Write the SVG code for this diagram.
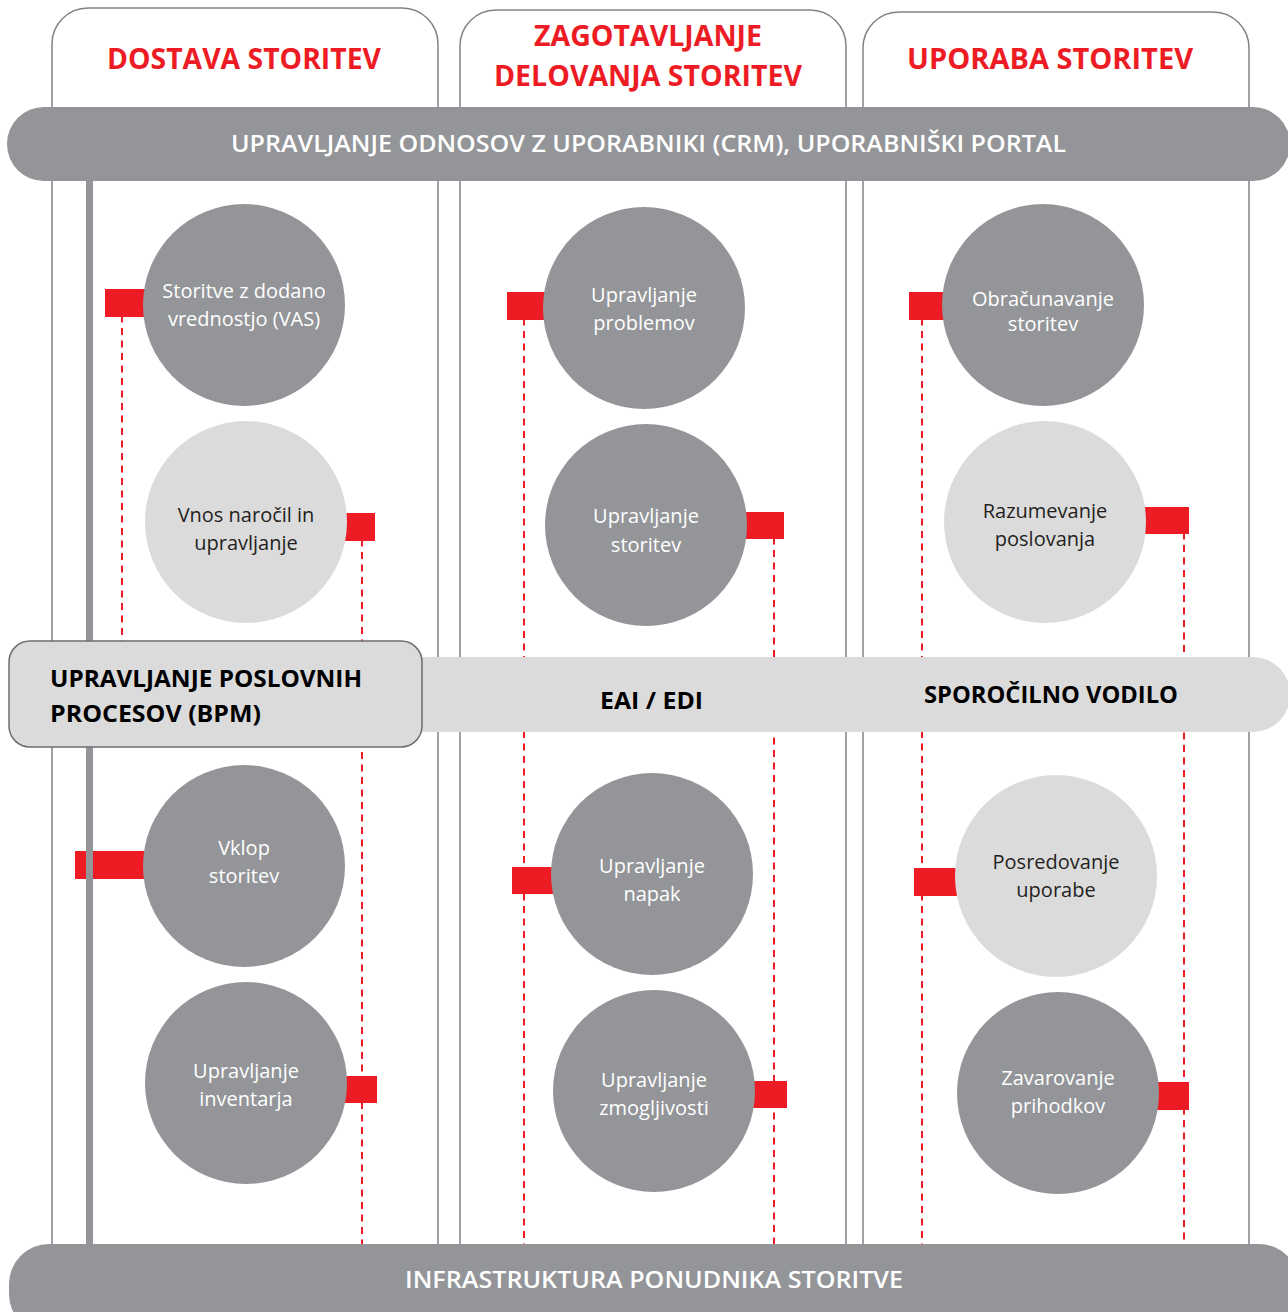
<svg xmlns="http://www.w3.org/2000/svg" width="1288" height="1312" viewBox="0 0 1288 1312">
<defs>
<style>
.col{fill:#ffffff;stroke:#808285;stroke-width:1.5}
.dark{fill:#939598}
.light{fill:#dcdbdc}
.port{fill:#ed1c24}
.dash{stroke:#ed1c24;stroke-width:2;stroke-dasharray:7 5.5;fill:none}
.spine{stroke:#939598;stroke-width:7;fill:none}
.hdr{font-family:"Open Sans","Noto Sans",sans-serif;font-weight:700;font-size:28px;fill:#ed1c24;text-anchor:middle}
.bar{font-family:"Open Sans","Noto Sans",sans-serif;font-weight:600;font-size:24px;fill:#ffffff;text-anchor:middle}
.lbl{font-family:"Open Sans","Noto Sans",sans-serif;font-weight:700;font-size:24px;fill:#000000}
.tw{font-family:"Open Sans","Noto Sans",sans-serif;font-size:20px;fill:#ffffff;text-anchor:middle}
.tb{font-family:"Open Sans","Noto Sans",sans-serif;font-size:20px;fill:#231f20;text-anchor:middle}
</style>
</defs>

<g id="columns">
<g id="col-dostava">
<path class="col" d="M52,1250 V44 A36,36 0 0 1 88,8 H402 A36,36 0 0 1 438,44 V1250"/>
<text class="hdr" x="244" y="69" textLength="274" lengthAdjust="spacingAndGlyphs">DOSTAVA STORITEV</text>
</g>
<g id="col-zagotavljanje">
<path class="col" d="M460,1250 V46 A36,36 0 0 1 496,10 H810 A36,36 0 0 1 846,46 V1250"/>
<text class="hdr" x="648" y="46" textLength="228" lengthAdjust="spacingAndGlyphs">ZAGOTAVLJANJE</text>
<text class="hdr" x="648" y="86" textLength="308" lengthAdjust="spacingAndGlyphs">DELOVANJA STORITEV</text>
</g>
<g id="col-uporaba">
<path class="col" d="M863,1250 V48 A36,36 0 0 1 899,12 H1213 A36,36 0 0 1 1249,48 V1250"/>
<text class="hdr" x="1050" y="69" textLength="286" lengthAdjust="spacingAndGlyphs">UPORABA STORITEV</text>
</g>
</g>

<g id="nodes">
<g id="n-vas">
<rect class="port" x="105" y="289" width="44" height="28"/>
<circle class="dark" cx="244" cy="305" r="101"/>
<text class="tw" x="244" y="298">Storitve z dodano</text>
<text class="tw" x="244" y="326">vrednostjo (VAS)</text>
</g>
<g id="n-vnos">
<rect class="port" x="341" y="513" width="34" height="28"/>
<circle class="light" cx="246" cy="522" r="101"/>
<text class="tb" x="246" y="522">Vnos naročil in</text>
<text class="tb" x="246" y="550">upravljanje</text>
</g>
<g id="n-vklop">
<rect class="port" x="75" y="851" width="74" height="28"/>
<circle class="dark" cx="244" cy="866" r="101"/>
<text class="tw" x="244" y="855">Vklop</text>
<text class="tw" x="244" y="883">storitev</text>
</g>
<g id="n-inventar">
<rect class="port" x="341" y="1076" width="36" height="27"/>
<circle class="dark" cx="246" cy="1083" r="101"/>
<text class="tw" x="246" y="1078">Upravljanje</text>
<text class="tw" x="246" y="1106">inventarja</text>
</g>

<g id="n-problemi">
<rect class="port" x="507" y="292" width="42" height="28"/>
<circle class="dark" cx="644" cy="308" r="101"/>
<text class="tw" x="644" y="302">Upravljanje</text>
<text class="tw" x="644" y="330">problemov</text>
</g>
<g id="n-storitve">
<rect class="port" x="741" y="512" width="43" height="27"/>
<circle class="dark" cx="646" cy="525" r="101"/>
<text class="tw" x="646" y="523">Upravljanje</text>
<text class="tw" x="646" y="552">storitev</text>
</g>
<g id="n-napake">
<rect class="port" x="512" y="867" width="45" height="27"/>
<circle class="dark" cx="652" cy="874" r="101"/>
<text class="tw" x="652" y="873">Upravljanje</text>
<text class="tw" x="652" y="901">napak</text>
</g>
<g id="n-zmogljivost">
<rect class="port" x="749" y="1081" width="38" height="27"/>
<circle class="dark" cx="654" cy="1091" r="101"/>
<text class="tw" x="654" y="1087">Upravljanje</text>
<text class="tw" x="654" y="1115">zmogljivosti</text>
</g>

<g id="n-obracun">
<rect class="port" x="909" y="292" width="39" height="28"/>
<circle class="dark" cx="1043" cy="305" r="101"/>
<text class="tw" x="1043" y="306">Obračunavanje</text>
<text class="tw" x="1043" y="331">storitev</text>
</g>
<g id="n-razumevanje">
<rect class="port" x="1140" y="507" width="49" height="27"/>
<circle class="light" cx="1045" cy="522" r="101"/>
<text class="tb" x="1045" y="518">Razumevanje</text>
<text class="tb" x="1045" y="546">poslovanja</text>
</g>
<g id="n-posredovanje">
<rect class="port" x="914" y="868" width="47" height="28"/>
<circle class="light" cx="1056" cy="876" r="101"/>
<text class="tb" x="1056" y="869">Posredovanje</text>
<text class="tb" x="1056" y="897">uporabe</text>
</g>
<g id="n-zavarovanje">
<rect class="port" x="1153" y="1082" width="36" height="28"/>
<circle class="dark" cx="1058" cy="1093" r="101"/>
<text class="tw" x="1058" y="1085">Zavarovanje</text>
<text class="tw" x="1058" y="1113">prihodkov</text>
</g>
</g>

<g id="connectors">
<line class="dash" x1="122" y1="303" x2="122" y2="641"/>
<line class="dash" x1="362" y1="527" x2="362" y2="1244"/>
<line class="dash" x1="524" y1="306" x2="524" y2="1244"/>
<line class="dash" x1="774" y1="525" x2="774" y2="1244"/>
<line class="dash" x1="922" y1="306" x2="922" y2="1244"/>
<line class="dash" x1="1184" y1="520" x2="1184" y2="1244"/>
<line class="spine" x1="89.5" y1="181" x2="89.5" y2="1246"/>
</g>

<g id="crm-bar">
<rect class="dark" x="7" y="107" width="1283" height="74" rx="37" ry="37"/>
<text class="bar" x="648.5" y="152" textLength="835" lengthAdjust="spacingAndGlyphs">UPRAVLJANJE ODNOSOV Z UPORABNIKI (CRM), UPORABNIŠKI PORTAL</text>
</g>

<g id="bus-bar">
<rect class="light" x="380" y="657" width="910" height="75" rx="37" ry="37"/>
<text class="lbl" x="600" y="709" textLength="103" lengthAdjust="spacingAndGlyphs">EAI / EDI</text>
<text class="lbl" x="924" y="703" textLength="254" lengthAdjust="spacingAndGlyphs">SPOROČILNO VODILO</text>
</g>

<g id="bpm-box">
<rect x="9" y="641" width="413" height="106" rx="21" ry="21" fill="#dcdbdc" stroke="#6d6e71" stroke-width="1.5"/>
<text class="lbl" x="50" y="687" textLength="312" lengthAdjust="spacingAndGlyphs">UPRAVLJANJE POSLOVNIH</text>
<text class="lbl" x="50" y="722" textLength="211" lengthAdjust="spacingAndGlyphs">PROCESOV (BPM)</text>
</g>

<g id="infra-bar">
<rect class="dark" x="9" y="1244" width="1290" height="90" rx="40" ry="40"/>
<text class="bar" x="654" y="1288" textLength="498" lengthAdjust="spacingAndGlyphs">INFRASTRUKTURA PONUDNIKA STORITVE</text>
</g>
</svg>
